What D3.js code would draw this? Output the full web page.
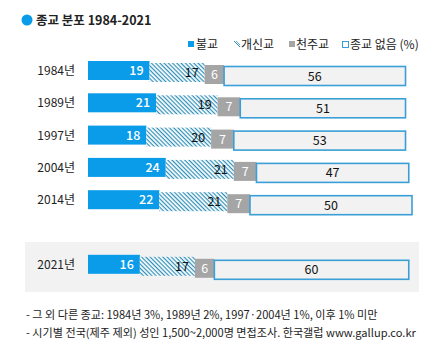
<!DOCTYPE html>
<html><head><meta charset="utf-8">
<script src="https://cdn.jsdelivr.net/npm/d3@7"></script>
<style>body{margin:0;background:#fff}svg{display:block}text{font-family:"Noto Sans CJK KR","Noto Sans",sans-serif}</style>
</head><body><svg id="c" width="441" height="346"></svg>
<script>
const years = ["1984년","1989년","1997년","2004년","2014년","2021년"];
const rowIndex = [0,1,2,3,4,6];
const buddhism = [19,21,18,24,22,16];
const protestant = [17,19,20,21,21,17];
const catholic = [6,7,7,7,7,6];
const none = [56,51,53,47,50,60];
const seriesNames = ["불교","개신교","천주교","종교 없음 (%)"];
const title = "종교 분포 1984-2021";
const notes = ["- 그 외 다른 종교: 1984년 3%, 1989년 2%, 1997·2004년 1%, 이후 1% 미만",
               "- 시기별 전국(제주 제외) 성인 1,500~2,000명 면접조사. 한국갤럽 www.gallup.co.kr"];

const svg = d3.select("#c");
const defs = svg.append("defs");
const pat = defs.append("pattern").attr("id","hatch").attr("patternUnits","userSpaceOnUse")
  .attr("width",3).attr("height",3).attr("patternTransform","rotate(45)");
pat.append("rect").attr("width",3).attr("height",3).attr("fill","#fff");
pat.append("rect").attr("x",0).attr("y",0).attr("width",3).attr("height",1.2).attr("fill","#2f8fb8");

const x = d3.scaleLinear().domain([0,100]).range([88,412]);
const y = d3.scaleLinear().domain([0,1]).range([61,93.3]);
const barH = 19;
const offs = [0,2,4,5.5];
const colors = ["#0a9be9","url(#hatch)","#a5a5a5","#f2f2f2"];

// panel for 2021
svg.append("rect").attr("x",25).attr("y",242).attr("width",394).attr("height",50).attr("fill","#f2f2f2");

// title
svg.append("circle").attr("cx",27).attr("cy",20).attr("r",5.5).attr("fill","#0a9be9");
svg.append("text").attr("x",36).attr("y",25).attr("font-size",12.5).attr("font-weight","bold").attr("fill","#222").text(title);

// legend
const lg = [{x:188},{x:234},{x:289},{x:342}];
const textX = [196,241,296,350];
lg.forEach((l,i)=>{
  const g = svg.append("g");
  if(i===0) g.append("rect").attr("x",l.x).attr("y",41).attr("width",6).attr("height",6).attr("fill","#0a9be9");
  if(i===1) { g.append("line").attr("x1",l.x).attr("y1",41).attr("x2",l.x+6).attr("y2",47).attr("stroke","#2f8fb8").attr("stroke-width",1);
              g.append("line").attr("x1",l.x+2).attr("y1",41).attr("x2",l.x+6).attr("y2",45).attr("stroke","#2f8fb8").attr("stroke-width",0.8);}
  if(i===2) g.append("rect").attr("x",l.x).attr("y",41).attr("width",6).attr("height",6).attr("fill","#a5a5a5");
  if(i===3) g.append("rect").attr("x",l.x+0.5).attr("y",41.5).attr("width",6).attr("height",6).attr("fill","#fff").attr("stroke","#3a9fd6").attr("stroke-width",1);
  g.append("text").attr("x",textX[i]).attr("y",49).attr("font-size",12).attr("fill","#222").text(seriesNames[i]);
});

const data = years.map((yr,i)=>({yr, idx:rowIndex[i], vals:[buddhism[i],protestant[i],catholic[i],none[i]]}));

data.forEach(d=>{
  const top = y(d.idx);
  svg.append("text").attr("x",75).attr("y",top+barH/2+4.5).attr("text-anchor","end")
    .attr("font-size",12).attr("fill","#222").text(d.yr);
  let cum = 0;
  d.vals.forEach((v,k)=>{
    const x0 = x(cum), x1 = x(cum+v);
    const yy = top+offs[k];
    const r = svg.append("rect").attr("x",x0).attr("y",yy).attr("width",x1-x0).attr("height",barH).attr("fill",colors[k]);
    if(k===3) r.attr("stroke","#3a9fd6").attr("stroke-width",1.6);
    const t = svg.append("text").attr("y",yy+barH/2+4.5).attr("font-size",12.5).text(v);
    if(k===0) t.attr("x",x1-6).attr("text-anchor","end").attr("fill","#fff").attr("font-weight",500);
    if(k===1) t.attr("x",x1-6).attr("text-anchor","end").attr("fill","#111");
    if(k===2) t.attr("x",(x0+x1)/2).attr("text-anchor","middle").attr("fill","#fff");
    if(k===3) t.attr("x",(x0+x1)/2).attr("text-anchor","middle").attr("fill","#111");
    cum += v;
  });
});

notes.forEach((n,i)=>{
  svg.append("text").attr("x",26).attr("y",319+i*18).attr("font-size",11.1).attr("fill","#222").text(n);
});
</script></body></html>
